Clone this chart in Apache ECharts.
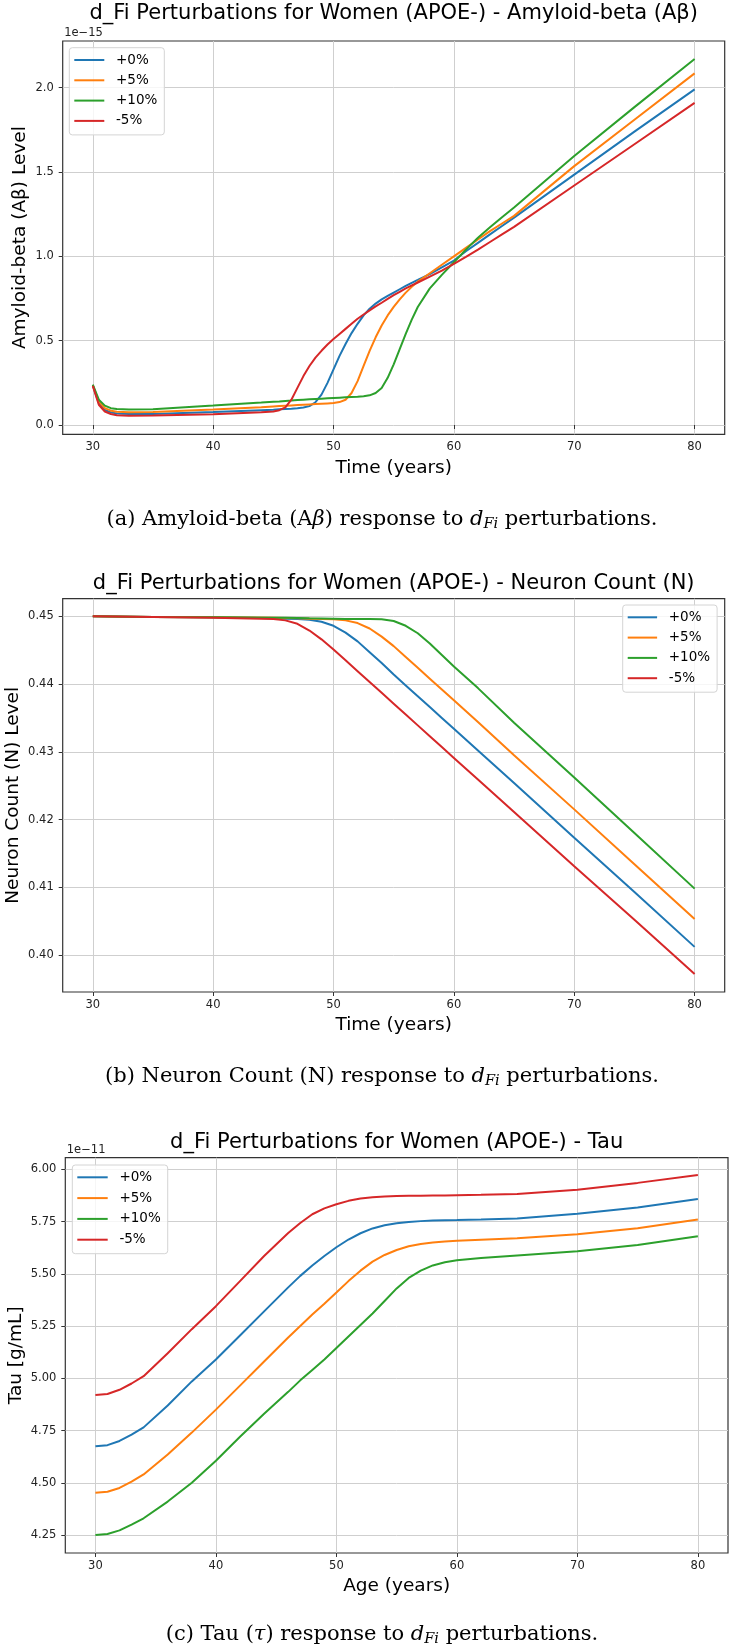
<!DOCTYPE html>
<html>
<head>
<meta charset="utf-8">
<script src="https://cdn.jsdelivr.net/npm/echarts@6/dist/echarts.min.js"></script>
<style>
  html, body { margin: 0; padding: 0; background: #fff; }
  #main { width: 734px; height: 1652px; }
</style>
</head>
<body>
<div id="main"></div>
<script>
// --- data ---
const seriesNames = ['+0%', '+5%', '+10%', '-5%'];
const seriesColors = ['#1f77b4', '#ff7f0e', '#2ca02c', '#d62728'];
const xTicks = [30, 40, 50, 60, 70, 80];

// (a) Amyloid-beta, values in units of 1e-15
const abetaAge = [30, 30.5, 31, 31.5, 32, 33, 35, 40, 44,
  45, 45.5, 46, 46.5, 47, 47.5, 48, 48.5, 49, 49.5, 50, 50.5, 51, 51.5, 52, 52.5, 53, 53.5, 54, 54.5, 55, 55.5, 56, 56.5, 57,
  58, 59, 60, 61, 62, 63, 64, 65, 70, 75, 80];
const abetaP0 = [0.235, 0.13, 0.09, 0.075, 0.068, 0.065, 0.066, 0.077, 0.088,
  0.091, 0.093, 0.095, 0.097, 0.100, 0.104, 0.112, 0.135, 0.18, 0.25, 0.33, 0.41, 0.48, 0.545, 0.60, 0.65, 0.69, 0.72, 0.745, 0.765, 0.785, 0.805, 0.825, 0.843, 0.86,
  0.895, 0.935, 0.975, 1.03, 1.08, 1.13, 1.18, 1.23, 1.485, 1.74, 1.99];
const abetaP5 = [0.237, 0.14, 0.10, 0.085, 0.078, 0.075, 0.077, 0.092, 0.106,
  0.110, 0.112, 0.114, 0.116, 0.118, 0.120, 0.122, 0.124, 0.126, 0.128, 0.130, 0.136, 0.15, 0.19, 0.26, 0.35, 0.44, 0.52, 0.59, 0.65, 0.70, 0.745, 0.785, 0.82, 0.85,
  0.90, 0.95, 1.00, 1.05, 1.10, 1.15, 1.195, 1.24, 1.535, 1.81, 2.085];
const abetaP10 = [0.24, 0.15, 0.115, 0.10, 0.095, 0.092, 0.094, 0.115, 0.133,
  0.138, 0.140, 0.143, 0.145, 0.148, 0.150, 0.152, 0.154, 0.156, 0.158, 0.160, 0.162, 0.164, 0.166, 0.168, 0.171, 0.176, 0.19, 0.22, 0.28, 0.36, 0.45, 0.54, 0.625, 0.70,
  0.81, 0.89, 0.965, 1.04, 1.11, 1.172, 1.232, 1.29, 1.595, 1.885, 2.17];
const abetaM5 = [0.232, 0.12, 0.08, 0.065, 0.058, 0.055, 0.056, 0.064, 0.075,
  0.080, 0.088, 0.105, 0.15, 0.22, 0.29, 0.35, 0.40, 0.44, 0.477, 0.51, 0.54, 0.57, 0.60, 0.63, 0.655, 0.68, 0.703, 0.725, 0.748, 0.77, 0.79, 0.81, 0.828, 0.845,
  0.88, 0.915, 0.955, 0.997, 1.04, 1.085, 1.13, 1.175, 1.42, 1.665, 1.91];
const abetaTicks = [0, 0.5, 1.0, 1.5, 2.0];

// (b) Neuron count
const neuronAge = [30, 35, 40, 45, 46, 47, 48, 49, 50, 51, 52, 53, 54, 55, 56, 57, 58, 59, 60, 62, 65, 70, 75, 80];
const neuronP0 = [0.45, 0.4499, 0.44985, 0.4497, 0.44965, 0.4496, 0.4495, 0.4492, 0.4486, 0.4476, 0.4463, 0.4447, 0.4431, 0.4414, 0.4398, 0.4382, 0.4366, 0.4350, 0.4334, 0.4302, 0.4254, 0.4173, 0.4093, 0.4012];
const neuronP5 = [0.45, 0.4499, 0.44985, 0.4498, 0.44975, 0.4497, 0.44965, 0.4496, 0.44955, 0.4494, 0.4490, 0.4482, 0.4470, 0.4456, 0.4440, 0.4424, 0.4408, 0.4392, 0.4376, 0.4344, 0.4295, 0.4215, 0.4134, 0.4053];
const neuronP10 = [0.45, 0.4499, 0.44985, 0.4498, 0.44978, 0.44975, 0.4497, 0.44968, 0.44965, 0.44962, 0.4496, 0.4496, 0.44955, 0.4493, 0.4486, 0.4475, 0.4460, 0.4443, 0.4426, 0.4394, 0.4343, 0.4262, 0.4180, 0.4098];
const neuronM5 = [0.45, 0.4499, 0.4498, 0.4496, 0.4494, 0.4489, 0.4479, 0.4466, 0.4451, 0.4435, 0.4419, 0.4403, 0.4387, 0.4371, 0.4355, 0.4339, 0.4323, 0.4307, 0.4291, 0.4259, 0.4211, 0.4131, 0.4052, 0.3972];
const neuronTicks = [0.40, 0.41, 0.42, 0.43, 0.44, 0.45];

// (c) Tau, values in units of 1e-11 g/mL
const tauAge = [30, 31, 32, 33, 34, 36, 38, 40, 42, 44, 46, 47, 48, 49, 50, 51, 52, 53, 54, 55, 56, 57, 58, 59, 60, 62, 65, 70, 75, 80];
const tauP0 = [4.675, 4.68, 4.70, 4.73, 4.765, 4.87, 4.985, 5.09, 5.205, 5.32, 5.435, 5.49, 5.54, 5.585, 5.627, 5.664, 5.694, 5.717, 5.732, 5.742, 5.748, 5.752, 5.755, 5.756, 5.757, 5.76, 5.765, 5.787, 5.817, 5.858];
const tauP5 = [4.452, 4.457, 4.475, 4.505, 4.54, 4.635, 4.74, 4.85, 4.965, 5.08, 5.195, 5.25, 5.305, 5.357, 5.41, 5.465, 5.515, 5.558, 5.59, 5.614, 5.632, 5.643, 5.65, 5.655, 5.658, 5.663, 5.67, 5.689, 5.718, 5.76];
const tauP10 = [4.25, 4.255, 4.272, 4.30, 4.33, 4.41, 4.50, 4.605, 4.72, 4.83, 4.935, 4.99, 5.04, 5.09, 5.145, 5.20, 5.255, 5.31, 5.37, 5.43, 5.48, 5.515, 5.54, 5.555, 5.565, 5.575, 5.588, 5.608, 5.638, 5.68];
const tauM5 = [4.92, 4.925, 4.945, 4.975, 5.01, 5.12, 5.235, 5.345, 5.465, 5.585, 5.695, 5.743, 5.785, 5.813, 5.833, 5.849, 5.86, 5.866, 5.87, 5.872, 5.873, 5.874, 5.875, 5.875, 5.876, 5.878, 5.882, 5.902, 5.935, 5.973];
const tauTicks = [4.25, 4.50, 4.75, 5.00, 5.25, 5.50, 5.75, 6.00];

// --- chart ---
const FONT = 'DejaVu Sans';
const SERIF = 'DejaVu Serif';

const panels = [
  {
    title: 'd_Fi Perturbations for Women (APOE-) - Amyloid-beta (A\u03b2)',
    titleTop: 3,
    grid: { left: 62.7, top: 41, width: 662, height: 393.3 },
    xName: 'Time (years)', yName: 'Amyloid-beta (A\u03b2) Level', yGap: 33,
    yMin: -0.0551, yMax: 2.277, yTicks: abetaTicks, digits: 1,
    age: abetaAge, values: [abetaP0, abetaP5, abetaP10, abetaM5],
    legend: { left: 69.3, top: 47.7, itemWidth: 30, itemGap: 6.3 },
    offsetText: '1e\u221215'
  },
  {
    title: 'd_Fi Perturbations for Women (APOE-) - Neuron Count (N)',
    titleTop: 573.5,
    grid: { left: 62.7, top: 598.7, width: 662, height: 393.3 },
    xName: 'Time (years)', yName: 'Neuron Count (N) Level', yGap: 40,
    yMin: 0.39454, yMax: 0.4526, yTicks: neuronTicks, digits: 2,
    age: neuronAge, values: [neuronP0, neuronP5, neuronP10, neuronM5],
    legend: { left: 622.7, top: 605, itemWidth: 29.4, itemGap: 6.3 },
    offsetText: ''
  },
  {
    title: 'd_Fi Perturbations for Women (APOE-) - Tau',
    titleTop: 1132.5,
    grid: { left: 65.3, top: 1157.7, width: 662.7, height: 395.3 },
    xName: 'Age (years)', yName: 'Tau [g/mL]', yGap: 40,
    yMin: 4.1639, yMax: 6.0555, yTicks: tauTicks, digits: 2,
    age: tauAge, values: [tauP0, tauP5, tauP10, tauM5],
    legend: { left: 72.3, top: 1165, itemWidth: 30.4, itemGap: 6.8 },
    offsetText: '1e\u221211'
  }
];

const captions = [
  { y: 519.6, parts: ['(a) Amyloid-beta (A', '{i|\u03b2}', ') response to ', '{i|d}{s|Fi}', ' perturbations.'] },
  { y: 1076.5, parts: ['(b) Neuron Count (N) response to ', '{i|d}{s|Fi}', ' perturbations.'] },
  { y: 1635, parts: ['(c) Tau (', '{i|\u03c4}', ') response to ', '{i|d}{s|Fi}', ' perturbations.'] }
];

const tickText = { fontSize: 11.5, color: '#222', fontFamily: FONT };

const option = {
  animation: false,
  backgroundColor: '#fff',
  title: panels.map((p) => ({
    text: p.title,
    left: p.grid.left + p.grid.width / 2,
    top: p.titleTop,
    textAlign: 'center',
    padding: 0,
    textStyle: { fontSize: 21, fontWeight: 'normal', color: '#000', fontFamily: FONT }
  })),
  grid: panels.map((p) => ({
    ...p.grid,
    outerBoundsMode: 'none',
    show: true,
    borderColor: '#333',
    borderWidth: 1.2,
    backgroundColor: 'transparent'
  })),
  legend: panels.map((p) => ({
    data: seriesNames.map((n) => ({ name: n, icon: 'rect' })),
    orient: 'vertical',
    left: p.legend.left,
    top: p.legend.top,
    itemWidth: p.legend.itemWidth,
    itemHeight: 2,
    itemGap: p.legend.itemGap,
    padding: [5.3, 7, 7, 5],
    backgroundColor: 'rgba(255,255,255,0.8)',
    borderColor: '#d4d4d4',
    borderWidth: 1,
    borderRadius: 3,
    selectedMode: false,
    textStyle: { fontSize: 13.5, color: '#000', fontFamily: FONT, padding: [0, 0, 0, 6.7] }
  })),
  xAxis: panels.map((p, i) => ({
    type: 'value',
    gridIndex: i,
    min: 27.5,
    max: 82.5,
    name: p.xName,
    nameLocation: 'middle',
    nameGap: 24,
    nameMoveOverlap: false,
    nameTextStyle: { fontSize: 18.5, color: '#000', fontFamily: FONT },
    axisLine: { show: false },
    axisTick: { show: true, length: 4, customValues: xTicks, lineStyle: { color: '#333', width: 1 } },
    axisLabel: { ...tickText, margin: 7, customValues: xTicks, formatter: (v) => String(v) },
    splitLine: { show: true, lineStyle: { color: '#cfcfcf', width: 1 } }
  })),
  yAxis: panels.map((p, i) => ({
    type: 'value',
    gridIndex: i,
    min: p.yMin,
    max: p.yMax,
    name: p.yName,
    nameLocation: 'middle',
    nameGap: p.yGap,
    nameMoveOverlap: false,
    nameTextStyle: { fontSize: 18.5, color: '#000', fontFamily: FONT },
    axisLine: { show: false },
    axisTick: { show: true, length: 4, customValues: p.yTicks, lineStyle: { color: '#333', width: 1 } },
    axisLabel: { ...tickText, margin: 9, customValues: p.yTicks, formatter: (v) => v.toFixed(p.digits) },
    splitLine: { show: true, lineStyle: { color: '#cfcfcf', width: 1 } }
  })),
  graphic: [
    ...panels.filter((p) => p.offsetText).map((p) => ({
      type: 'text',
      x: p.grid.left + 1.5,
      y: p.grid.top - 8,
      style: { text: p.offsetText, fontSize: 11.5, fill: '#222', fontFamily: FONT, align: 'left', verticalAlign: 'middle' }
    })),
    ...captions.map((c) => ({
      type: 'text',
      x: 382,
      y: c.y,
      style: {
        text: c.parts.map((t) => (t.startsWith('{') ? t : '{n|' + t + '}')).join(''),
        align: 'center',
        verticalAlign: 'middle',
        rich: {
          n: { fontSize: 21, fontFamily: SERIF, fill: '#000' },
          i: { fontSize: 21, fontFamily: SERIF, fontStyle: 'italic', fill: '#000' },
          s: { fontSize: 14.5, fontFamily: SERIF, fontStyle: 'italic', fill: '#000', padding: [9, 0, 0, 0] }
        }
      }
    }))
  ],
  series: panels.flatMap((p, i) =>
    p.values.map((vals, k) => ({
      type: 'line',
      name: seriesNames[k],
      xAxisIndex: i,
      yAxisIndex: i,
      data: p.age.map((x, j) => [x, vals[j]]),
      symbol: 'none',
      showSymbol: false,
      lineStyle: { color: seriesColors[k], width: 2 },
      itemStyle: { color: seriesColors[k] }
    }))
  )
};

const myChart = echarts.init(document.getElementById('main'), null, { renderer: 'canvas' });
myChart.setOption(option);
</script>
</body>
</html>
